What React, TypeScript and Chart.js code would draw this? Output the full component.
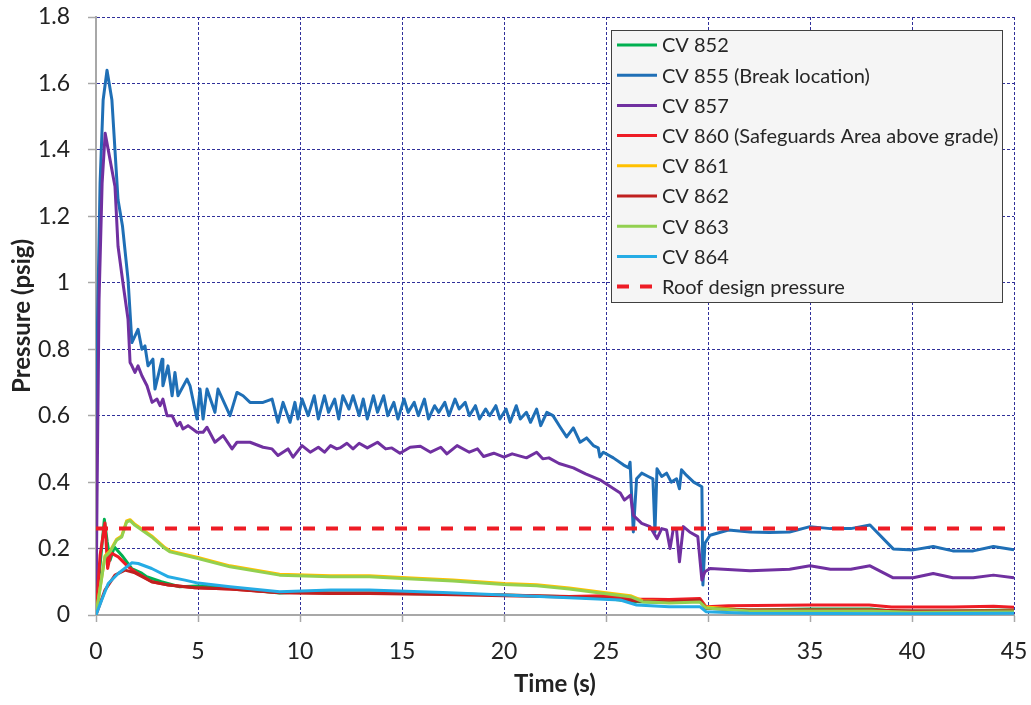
import React, { useEffect, useRef } from "react";
import { Chart, registerables } from "chart.js";

Chart.register(...registerables);

// ---------- tick labels ----------
const xTickLabels = ["0", "5", "10", "15", "20", "25", "30", "35", "40", "45"];
const yTickLabels = ["0", "0.2", "0.4", "0.6", "0.8", "1", "1.2", "1.4", "1.6", "1.8"];

// ---------- series names & colours ----------
const seriesLabels = [
  "CV 852",
  "CV 855 (Break location)",
  "CV 857",
  "CV 860 (Safeguards Area above grade)",
  "CV 861",
  "CV 862",
  "CV 863",
  "CV 864",
  "Roof design pressure",
];
const seriesColors = [
  "#00b050",
  "#1f6fb6",
  "#7030a0",
  "#ee1c25",
  "#ffc000",
  "#c0201f",
  "#92d050",
  "#25ace5",
  "#ee1c25",
];

// ---------- data (time in s, pressure in psig) ----------
const cv852T = [0, 0.2, 0.41, 0.55, 0.69, 0.9, 1.26, 1.75, 2.24, 2.48, 3.2, 4.1, 5.0, 6.57, 8.0, 9.0, 10, 11.5, 13.9, 15, 17.5, 20, 23.2, 25, 26.5, 28.1, 29.6, 29.9, 32, 35, 38, 39, 42, 45];
const cv852V = [0, 0.15, 0.288, 0.22, 0.165, 0.205, 0.18, 0.14, 0.126, 0.115, 0.1, 0.085, 0.087, 0.081, 0.072, 0.066, 0.069, 0.066, 0.066, 0.065, 0.063, 0.06, 0.055, 0.05, 0.04, 0.038, 0.042, 0.02, 0.015, 0.018, 0.018, 0.012, 0.012, 0.015];

const cv855T = [
  0, 0.05, 0.2, 0.35, 0.54, 0.78, 1.08, 1.3, 1.57, 1.76, 2.06, 2.25, 2.4, 2.55, 2.79, 2.89, 3.24, 3.28, 3.53, 3.73, 3.87, 4.02, 4.46, 4.61, 4.95,
  5.1, 5.25, 5.44, 5.83, 5.98, 6.57, 6.91, 7.21, 7.55, 8.19, 8.63, 8.92, 9.17, 9.51, 9.75, 9.9, 10.1,
  10.4, 10.7, 10.9, 11.2, 11.4, 11.7, 11.9, 12.1, 12.4, 12.6, 12.9, 13.1, 13.3, 13.6, 13.8, 14.1, 14.3, 14.6, 14.8,
  15.1, 15.3, 15.6, 15.8, 16.1, 16.3, 16.6, 16.8, 17.1, 17.3, 17.6, 17.8, 18.1, 18.3, 18.6, 18.8, 19.1, 19.3, 19.6, 19.8,
  20.1, 20.3, 20.6, 20.8, 21.1, 21.3, 21.6, 21.8, 22.1, 22.4, 22.75, 23.07, 23.4, 23.73, 24.05, 24.38, 24.62, 24.7, 24.87,
  25.36, 25.85, 26.1, 26.18, 26.34, 26.5, 26.75, 27.07, 27.3, 27.4, 27.5, 27.73, 27.97, 28.2, 28.46, 28.6, 28.7, 28.95, 29.3, 29.7, 29.75,
  29.85, 30.1, 31, 32.06, 33, 34, 35, 36, 37, 37.94, 39.08, 40.06, 41.04, 42, 43, 43.99, 45,
];
const cv855V = [
  0, 0.8, 1.3, 1.55, 1.64, 1.55, 1.25, 1.17, 1.01, 0.82, 0.86, 0.8, 0.81, 0.75, 0.77, 0.68, 0.77, 0.69, 0.75, 0.66, 0.73, 0.66, 0.71, 0.69, 0.59,
  0.68, 0.59, 0.68, 0.61, 0.68, 0.6, 0.67, 0.66, 0.64, 0.64, 0.65, 0.58, 0.64, 0.58, 0.64, 0.59, 0.65,
  0.6, 0.66, 0.59, 0.66, 0.61, 0.65, 0.59, 0.66, 0.62, 0.66, 0.6, 0.65, 0.59, 0.66, 0.61, 0.66, 0.6, 0.64, 0.59,
  0.65, 0.61, 0.64, 0.6, 0.65, 0.59, 0.63, 0.61, 0.64, 0.6, 0.65, 0.62, 0.64, 0.6, 0.63, 0.59, 0.62, 0.6, 0.63, 0.59,
  0.62, 0.58, 0.63, 0.59, 0.61, 0.58, 0.62, 0.57, 0.61, 0.6, 0.566, 0.536, 0.563, 0.52, 0.533, 0.51, 0.503, 0.476, 0.49,
  0.473, 0.452, 0.443, 0.46, 0.25, 0.41, 0.427, 0.417, 0.41, 0.25, 0.44, 0.417, 0.427, 0.4, 0.41, 0.38, 0.437, 0.42, 0.4, 0.386, 0.09,
  0.216, 0.24, 0.256, 0.25, 0.248, 0.25, 0.266, 0.26, 0.26, 0.271, 0.199, 0.196, 0.206, 0.193, 0.193, 0.206, 0.196,
];

const cv857T = [
  0, 0.05, 0.15, 0.3, 0.45, 0.6, 0.93, 1.08, 1.32, 1.57, 1.67, 1.76, 1.91, 2.06, 2.25, 2.5, 2.75, 2.99, 3.14, 3.28, 3.48, 3.73, 3.97, 4.12, 4.26, 4.51, 4.95,
  5.25, 5.44, 5.83, 6.23, 6.67, 6.91, 7.21, 7.55, 8.19, 8.63, 8.92, 9.41, 9.66, 10.1, 10.5, 10.9, 11.2, 11.5, 11.8,
  11.96, 12.3, 12.6, 12.9, 13.3, 13.8, 14.2, 14.5, 14.9, 15.4, 15.9, 16.4, 16.9, 17.2, 17.7, 18.3, 18.7, 19.0, 19.5, 20.0, 20.4, 21.1, 21.6, 21.9, 22.2, 22.7,
  23.4, 24.0, 24.7, 25.7, 25.9, 26.2, 26.34, 26.75, 27.16, 27.5, 27.73, 27.97, 28.14, 28.3, 28.46, 28.6, 28.79, 29.1, 29.5, 29.7,
  29.85, 30.1, 32.06, 34, 35, 36, 37, 37.94, 39.08, 40.06, 41.04, 42, 43, 43.99, 45,
];
const cv857V = [
  0, 0.35, 0.95, 1.3, 1.45, 1.4, 1.29, 1.11, 1.0, 0.89, 0.76, 0.75, 0.73, 0.75, 0.72, 0.69, 0.64, 0.65, 0.63, 0.65, 0.6, 0.6, 0.57, 0.58, 0.56, 0.57, 0.55,
  0.55, 0.565, 0.52, 0.54, 0.5, 0.52, 0.52, 0.52, 0.505, 0.5, 0.48, 0.5, 0.475, 0.51, 0.49, 0.505, 0.49, 0.51, 0.5,
  0.503, 0.517, 0.5, 0.517, 0.503, 0.52, 0.5, 0.503, 0.487, 0.505, 0.508, 0.49, 0.505, 0.485, 0.51, 0.49, 0.5, 0.477, 0.487, 0.475, 0.485, 0.473, 0.49, 0.47, 0.473, 0.456,
  0.443, 0.425, 0.407, 0.367, 0.346, 0.361, 0.3, 0.276, 0.266, 0.23, 0.26, 0.256, 0.2, 0.26, 0.256, 0.16, 0.266, 0.25, 0.236, 0.105,
  0.13, 0.14, 0.133, 0.138, 0.148, 0.138, 0.138, 0.148, 0.112, 0.112, 0.125, 0.112, 0.112, 0.12, 0.112,
];

const cv860T = [0, 0.2, 0.44, 0.57, 0.73, 1.09, 1.58, 1.91, 2.73, 3.55, 4.85, 6.57, 9.0, 11.5, 13.4, 17, 20, 23.2, 24.9, 26.5, 28.1, 29.6, 29.9, 31, 35, 37.9, 39, 42, 44, 45];
const cv860V = [0, 0.18, 0.277, 0.14, 0.187, 0.175, 0.145, 0.13, 0.1, 0.09, 0.082, 0.078, 0.068, 0.066, 0.066, 0.064, 0.06, 0.056, 0.058, 0.048, 0.047, 0.05, 0.025, 0.028, 0.03, 0.03, 0.024, 0.024, 0.026, 0.023];

const cv861T = [0, 0.44, 0.69, 1.01, 1.26, 1.5, 1.67, 1.91, 2.73, 3.38, 3.63, 5.0, 6.57, 9.0, 11.5, 13.4, 15, 17.5, 20, 21.6, 23.2, 24.9, 26.2, 26.8, 28.1, 29.6, 29.9, 32, 38, 40, 45];
const cv861V = [0, 0.178, 0.193, 0.228, 0.238, 0.283, 0.287, 0.273, 0.238, 0.203, 0.193, 0.173, 0.148, 0.123, 0.118, 0.118, 0.113, 0.105, 0.095, 0.091, 0.081, 0.068, 0.058, 0.043, 0.04, 0.042, 0.024, 0.014, 0.014, 0.01, 0.012];

const cv862T = [0, 0.44, 0.93, 1.42, 1.91, 2.73, 3.55, 4.85, 6.57, 9, 11.5, 13.4, 17, 20, 23.2, 25, 26.5, 28.1, 29.6, 29.9, 32, 38, 40, 45];
const cv862V = [0, 0.075, 0.12, 0.135, 0.127, 0.1, 0.09, 0.082, 0.078, 0.067, 0.065, 0.065, 0.062, 0.058, 0.054, 0.05, 0.042, 0.04, 0.045, 0.02, 0.015, 0.015, 0.012, 0.012];

const cv863T = [0, 0.44, 0.69, 1.01, 1.26, 1.5, 1.67, 1.91, 2.73, 3.38, 3.63, 5.0, 6.57, 9.0, 11.5, 13.4, 15, 17.5, 20, 21.6, 23.2, 24.9, 26.2, 26.8, 28.1, 29.6, 29.9, 32, 38, 40, 45];
const cv863V = [0, 0.175, 0.19, 0.225, 0.235, 0.28, 0.284, 0.27, 0.235, 0.2, 0.19, 0.17, 0.145, 0.12, 0.115, 0.115, 0.11, 0.102, 0.092, 0.088, 0.078, 0.065, 0.055, 0.04, 0.036, 0.039, 0.021, 0.012, 0.012, 0.008, 0.01];

const cv864T = [0, 0.28, 0.6, 1.09, 1.75, 2.07, 2.73, 3.55, 4.36, 5.0, 6.57, 9.0, 11.5, 13.4, 17, 20, 23.2, 25.7, 26.5, 28.1, 29.6, 29.9, 32, 40, 45];
const cv864V = [0, 0.045, 0.095, 0.125, 0.157, 0.155, 0.14, 0.115, 0.105, 0.096, 0.085, 0.07, 0.075, 0.075, 0.068, 0.06, 0.052, 0.045, 0.03, 0.025, 0.025, 0.01, 0.005, 0.004, 0.005];

const roofT = [0, 45];
const roofV = [0.26, 0.26];

const seriesT = [cv852T, cv855T, cv857T, cv860T, cv861T, cv862T, cv863T, cv864T, roofT];
const seriesV = [cv852V, cv855V, cv857V, cv860V, cv861V, cv862V, cv863V, cv864V, roofV];

const FONT = "Lato, 'Open Sans', sans-serif";
const ROOF_DASH = [12, 11];

function toPoints(t: number[], v: number[]) {
  return t.map((x, i) => ({ x, y: v[i] }));
}

const boxLegend = {
  id: "boxLegend",
  afterDatasetsDraw(chart: any) {
    const { ctx, chartArea } = chart;
    const w = 392;
    const h = 273;
    const right = chartArea.right - 11;
    const top = chartArea.top + 13;
    const left = right - w;
    ctx.save();
    ctx.fillStyle = "#f5f5f5";
    ctx.fillRect(left, top, w, h);
    ctx.strokeStyle = "#404040";
    ctx.lineWidth = 1;
    ctx.strokeRect(left + 0.5, top + 0.5, w - 1, h - 1);
    ctx.font = `20px ${FONT}`;
    ctx.textBaseline = "middle";
    ctx.textAlign = "left";
    chart.data.datasets.forEach((ds: any, i: number) => {
      const y = top + 15 + i * 30.2;
      ctx.strokeStyle = ds.borderColor;
      ctx.lineWidth = i === 8 ? 4 : 3;
      ctx.setLineDash(ds.borderDash || []);
      ctx.beginPath();
      ctx.moveTo(left + 6, y);
      ctx.lineTo(left + 46, y);
      ctx.stroke();
      ctx.setLineDash([]);
      ctx.fillStyle = "#262626";
      ctx.fillText(ds.label, left + 51, y + 1);
    });
    ctx.restore();
  },
};

export default function App() {
  const canvasRef = useRef<HTMLCanvasElement | null>(null);

  useEffect(() => {
    if (!canvasRef.current) return;
    const datasets = seriesLabels.map((label, i) => ({
      label,
      data: toPoints(seriesT[i], seriesV[i]),
      borderColor: seriesColors[i],
      backgroundColor: seriesColors[i],
      borderWidth: i === 8 ? 4 : 3,
      borderDash: i === 8 ? ROOF_DASH : [],
      pointRadius: 0,
      tension: 0,
      fill: false,
      order: 8 - i,
      borderJoinStyle: "round" as const,
    }));

    const chart = new Chart(canvasRef.current, {
      type: "line",
      data: { datasets },
      options: {
        animation: false,
        responsive: false,
        layout: { padding: { left: 0, right: 17, top: 17, bottom: 0 } },
        plugins: { legend: { display: false }, tooltip: { enabled: false } },
        scales: {
          x: {
            type: "linear",
            min: 0,
            max: 45,
            afterFit: (s: any) => {
              s.height = 90;
              s.paddingLeft = 0;
              s.paddingRight = 0;
            },
            ticks: {
              stepSize: 5,
              padding: 16,
              color: "#222",
              font: { family: FONT, size: 23 },
              callback: (_v: any, i: number) => xTickLabels[i],
            },
            grid: {
              color: "#30309a",
              lineWidth: 1,
              tickLength: 7,
              tickColor: "#a8a8a8",
              tickWidth: 1.5,
            },
            border: { display: true, color: "#a8a8a8", width: 2, dash: [3, 2] },
            title: {
              display: true,
              text: "Time (s)",
              color: "#222",
              font: { family: FONT, size: 24, weight: "bold" },
              padding: { top: 0, bottom: 6 },
            },
          },
          y: {
            type: "linear",
            min: 0,
            max: 1.8,
            afterFit: (s: any) => {
              s.width = 96;
              s.paddingTop = 0;
              s.paddingBottom = 0;
            },
            ticks: {
              stepSize: 0.2,
              padding: 18,
              color: "#222",
              font: { family: FONT, size: 23 },
              callback: (_v: any, i: number) => yTickLabels[i],
            },
            grid: {
              color: "#30309a",
              lineWidth: 1,
              tickLength: 8,
              tickColor: "#a8a8a8",
              tickWidth: 1.5,
            },
            border: { display: true, color: "#a8a8a8", width: 2, dash: [3, 2] },
            title: {
              display: true,
              text: "Pressure (psig)",
              color: "#222",
              font: { family: FONT, size: 24, weight: "bold" },
              padding: { top: 8, bottom: 0 },
            },
          },
        },
      },
      plugins: [boxLegend],
    });
    return () => chart.destroy();
  }, []);

  return (
    <div style={{ position: "absolute", left: 0, top: 0, width: 1031, height: 705, background: "#fff" }}>
      <canvas ref={canvasRef} width={1031} height={705} />
    </div>
  );
}
